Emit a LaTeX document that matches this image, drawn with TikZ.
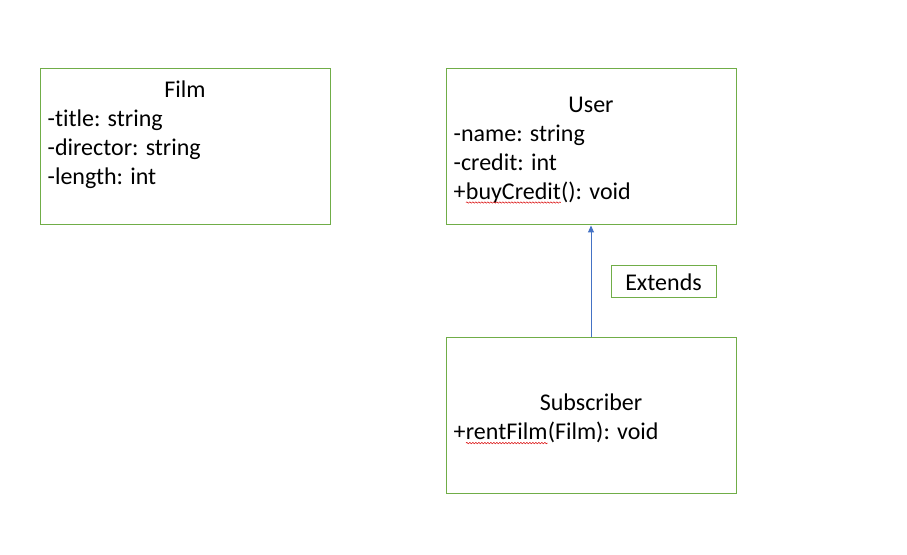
\documentclass[tikz,border=0pt]{standalone}
\usepackage{fontspec}
\setmainfont{Carlito}[Ligatures=NoCommon]
\usetikzlibrary{positioning,arrows.meta,decorations.pathmorphing}
\definecolor{boxgreen}{RGB}{112,173,71}
\definecolor{arrowblue}{RGB}{68,114,196}
\tikzstyle{classbox} = [rectangle, minimum width=290pt, minimum height=156pt, draw=boxgreen, line width=1pt]
\tikzstyle{tagbox} = [rectangle, minimum width=105pt, minimum height=32pt, inner sep=0pt, draw=boxgreen, line width=1pt]
\tikzstyle{member} = [inner sep=0pt, align=left]
\tikzstyle{arrow} = [arrowblue, line width=1pt, -{Triangle[length=7pt,width=6pt]}]
\newcommand{\spellwave}[1]{\tikz[baseline=(w.base)]{\node[inner sep=0pt, outer sep=0pt] (w) {#1};
  \draw[red!85!black, line width=0.5pt, decorate, decoration={snake, amplitude=0.7pt, segment length=3pt}] ([yshift=-3.5pt]w.base west) -- ([yshift=-3.5pt]w.base east);}}

\begin{document}
\begin{tikzpicture}[x=1pt, y=1pt, font=\fontsize{24}{29}\selectfont]
    \fill[white] (0,0) rectangle (907,554);
    % classes
    \node (film) [classbox] at (185,407) {};
    \node (filmname) [member] at ([yshift=-21pt]film.north) {Film};
    \node (filmattrs) [member, anchor=west] at ([xshift=8pt, yshift=-2pt]film.west) {-title: string\\-director: string\\-length: int};
    \node (user) [classbox] at (591,407) {};
    \node (username) [member] at ([yshift=-36pt]user.north) {User};
    \node (userattrs) [member, anchor=west] at ([xshift=8pt, yshift=-17pt]user.west) {-name: string\\-credit: int\\+\spellwave{buyCredit}(): void};
    \node (subscriber) [classbox] at (591,138) {};
    \node (subname) [member] at ([yshift=14pt]subscriber.center) {Subscriber};
    \node (submethods) [member, anchor=west] at ([xshift=8pt, yshift=-17pt]subscriber.west) {+\spellwave{rentFilm}(Film): void};
    % inheritance
    \node (extends) [tagbox] at (663.5,272) {Extends};
    \draw [arrow] (subscriber.north) -- (user.south);
\end{tikzpicture}
\end{document}
